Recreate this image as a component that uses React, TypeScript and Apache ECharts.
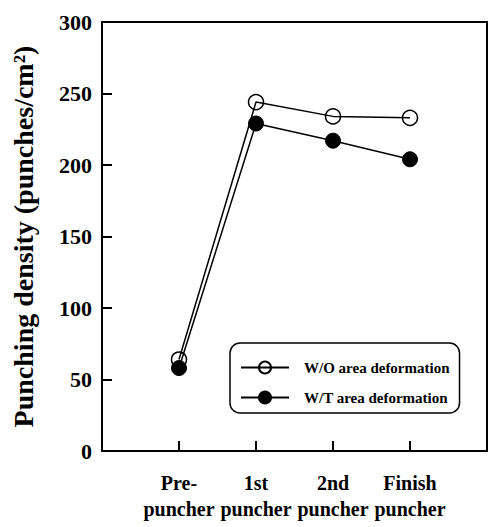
import React, { useEffect, useRef } from "react";
import * as echarts from "echarts";

const categories = ["Pre-\npuncher", "1st\npuncher", "2nd\npuncher", "Finish\npuncher"];
const woValues = [64, 244, 234, 233];
const wtValues = [58, 229, 217, 204];
const yTicks = [0, 50, 100, 150, 200, 250, 300];
const seriesNames = ["W/O area deformation", "W/T area deformation"];

const FONT = "Liberation Serif";

export default function App() {
  const ref = useRef<HTMLDivElement>(null);
  useEffect(() => {
    if (!ref.current) return;
    const chart = echarts.init(ref.current, undefined, { renderer: "svg" });
    const toData = (vals: number[]) => vals.map((v, i) => [i + 1, v]);
    chart.setOption({
      animation: false,
      backgroundColor: "#fff",
      grid: {
        left: 102,
        top: 22,
        right: 8,
        bottom: 76,
        outerBoundsMode: "none",
        containLabel: false,
        show: true,
        borderColor: "#000",
        borderWidth: 2,
        backgroundColor: "transparent",
      },
      legend: {
        show: true,
        orient: "vertical",
        left: 230,
        top: 343,
        padding: [17, 10, 8, 10],
        itemWidth: 48,
        itemHeight: 15,
        itemGap: 15,
        borderColor: "#000",
        borderWidth: 1.5,
        borderRadius: 10,
        data: seriesNames,
        textStyle: {
          fontFamily: FONT,
          fontWeight: "bold",
          fontSize: 15,
          color: "#000",
          padding: [0, 0, 0, 10],
        },
      },
      xAxis: {
        type: "value",
        min: 0,
        max: 5,
        interval: 1,
        splitLine: { show: false },
        axisLine: { show: true, lineStyle: { color: "#000", width: 2 } },
        axisTick: { show: true, inside: true, length: 10, lineStyle: { color: "#000", width: 2 } },
        axisLabel: {
          margin: 19,
          fontFamily: FONT,
          fontWeight: "bold",
          fontSize: 20,
          lineHeight: 26,
          color: "#000",
          formatter: (v: number) => (v >= 1 && v <= categories.length ? categories[v - 1] : ""),
        },
      },
      yAxis: {
        type: "value",
        min: yTicks[0],
        max: yTicks[yTicks.length - 1],
        interval: 50,
        name: "Punching density (punches/cm²)",
        nameLocation: "middle",
        nameGap: 65,
        nameTextStyle: {
          fontFamily: FONT,
          fontWeight: "bold",
          fontSize: 28,
          color: "#000",
        },
        splitLine: { show: false },
        axisLine: { show: true, lineStyle: { color: "#000", width: 2 } },
        axisTick: { show: true, inside: true, length: 10, lineStyle: { color: "#000", width: 2 } },
        axisLabel: {
          margin: 10,
          fontFamily: FONT,
          fontWeight: "bold",
          fontSize: 22,
          color: "#000",
        },
      },
      series: [
        {
          name: seriesNames[0],
          type: "line",
          data: toData(woValues),
          symbol: "circle",
          symbolSize: 15,
          lineStyle: { color: "#000", width: 1.5 },
          itemStyle: { color: "rgba(255,255,255,0)", borderColor: "#000", borderWidth: 1.5 },
        },
        {
          name: seriesNames[1],
          type: "line",
          data: toData(wtValues),
          symbol: "circle",
          symbolSize: 15,
          lineStyle: { color: "#000", width: 1.5 },
          itemStyle: { color: "#000", borderColor: "#000", borderWidth: 1 },
        },
      ],
    });
    return () => chart.dispose();
  }, []);
  return <div ref={ref} style={{ width: 495, height: 527, position: "absolute", left: 0, top: 0 }} />;
}
